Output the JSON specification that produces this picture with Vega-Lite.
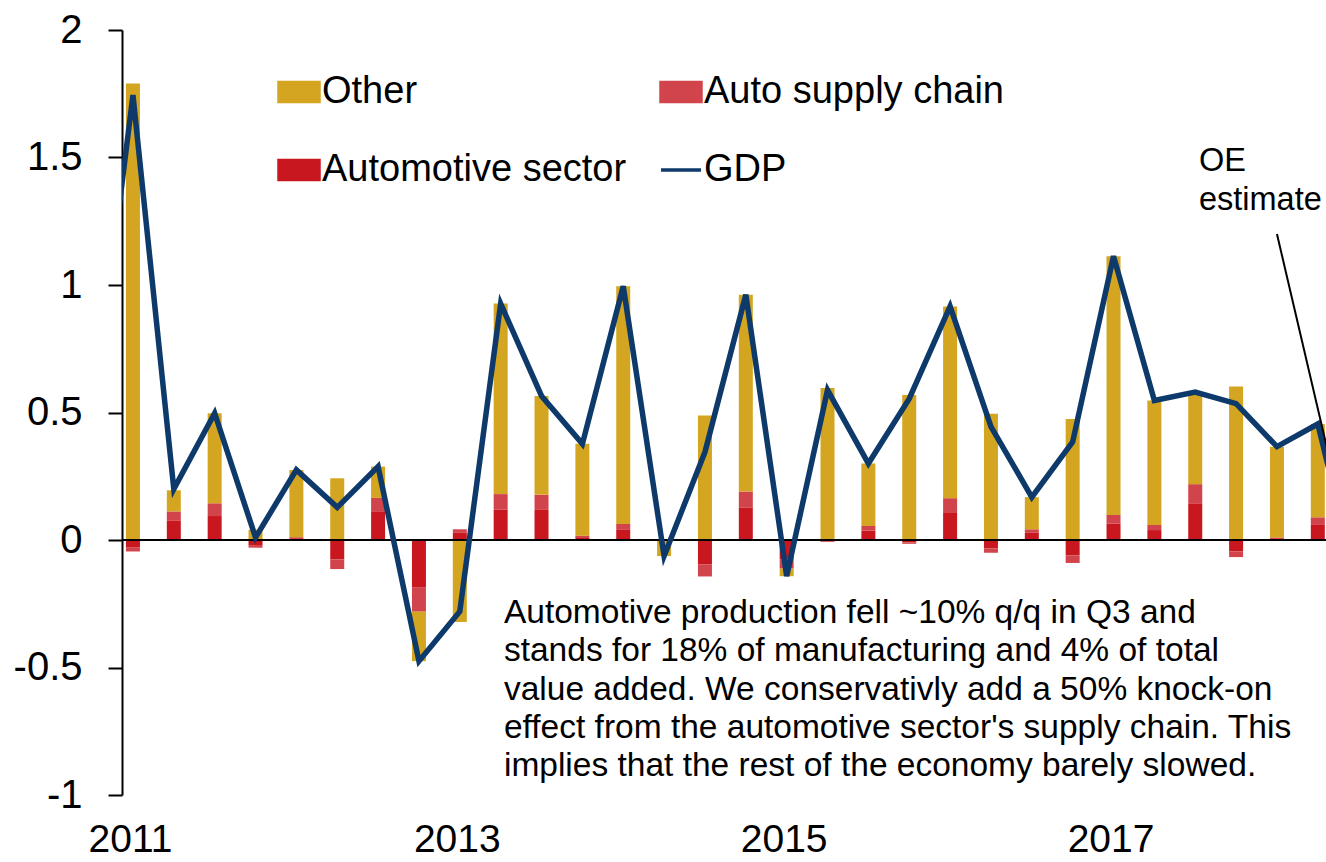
{
  "$schema": "https://vega.github.io/schema/vega-lite/v6.json",
  "width": 1204,
  "height": 765,
  "autosize": {"type": "none"},
  "padding": {"left": 122, "top": 30, "right": 0, "bottom": 67},
  "background": "white",
  "config": {"view": {"stroke": null}, "font": "Liberation Sans"},
  "datasets": {
    "contrib": [
      {"q":0,"series":"Automotive sector","value":-0.03,"rank":1},{"q":0,"series":"Auto supply chain","value":-0.015,"rank":2},{"q":0,"series":"Other","value":1.79,"rank":3},
      {"q":1,"series":"Automotive sector","value":0.075,"rank":1},{"q":1,"series":"Auto supply chain","value":0.037,"rank":2},{"q":1,"series":"Other","value":0.083,"rank":3},
      {"q":2,"series":"Automotive sector","value":0.094,"rank":1},{"q":2,"series":"Auto supply chain","value":0.05,"rank":2},{"q":2,"series":"Other","value":0.353,"rank":3},
      {"q":3,"series":"Automotive sector","value":-0.02,"rank":1},{"q":3,"series":"Auto supply chain","value":-0.01,"rank":2},{"q":3,"series":"Other","value":0.04,"rank":3},
      {"q":4,"series":"Automotive sector","value":0.007,"rank":1},{"q":4,"series":"Auto supply chain","value":0.004,"rank":2},{"q":4,"series":"Other","value":0.264,"rank":3},
      {"q":5,"series":"Automotive sector","value":-0.076,"rank":1},{"q":5,"series":"Auto supply chain","value":-0.038,"rank":2},{"q":5,"series":"Other","value":0.242,"rank":3},
      {"q":6,"series":"Automotive sector","value":0.11,"rank":1},{"q":6,"series":"Auto supply chain","value":0.055,"rank":2},{"q":6,"series":"Other","value":0.123,"rank":3},
      {"q":7,"series":"Automotive sector","value":-0.187,"rank":1},{"q":7,"series":"Auto supply chain","value":-0.094,"rank":2},{"q":7,"series":"Other","value":-0.194,"rank":3},
      {"q":8,"series":"Automotive sector","value":0.028,"rank":1},{"q":8,"series":"Auto supply chain","value":0.014,"rank":2},{"q":8,"series":"Other","value":-0.322,"rank":3},
      {"q":9,"series":"Automotive sector","value":0.12,"rank":1},{"q":9,"series":"Auto supply chain","value":0.06,"rank":2},{"q":9,"series":"Other","value":0.747,"rank":3},
      {"q":10,"series":"Automotive sector","value":0.118,"rank":1},{"q":10,"series":"Auto supply chain","value":0.059,"rank":2},{"q":10,"series":"Other","value":0.388,"rank":3},
      {"q":11,"series":"Automotive sector","value":0.011,"rank":1},{"q":11,"series":"Auto supply chain","value":0.006,"rank":2},{"q":11,"series":"Other","value":0.36,"rank":3},
      {"q":12,"series":"Automotive sector","value":0.042,"rank":1},{"q":12,"series":"Auto supply chain","value":0.021,"rank":2},{"q":12,"series":"Other","value":0.932,"rank":3},
      {"q":13,"series":"Automotive sector","value":0,"rank":1},{"q":13,"series":"Auto supply chain","value":0,"rank":2},{"q":13,"series":"Other","value":-0.063,"rank":3},
      {"q":14,"series":"Automotive sector","value":-0.095,"rank":1},{"q":14,"series":"Auto supply chain","value":-0.048,"rank":2},{"q":14,"series":"Other","value":0.488,"rank":3},
      {"q":15,"series":"Automotive sector","value":0.128,"rank":1},{"q":15,"series":"Auto supply chain","value":0.062,"rank":2},{"q":15,"series":"Other","value":0.772,"rank":3},
      {"q":16,"series":"Automotive sector","value":-0.075,"rank":1},{"q":16,"series":"Auto supply chain","value":-0.037,"rank":2},{"q":16,"series":"Other","value":-0.03,"rank":3},
      {"q":17,"series":"Automotive sector","value":-0.005,"rank":1},{"q":17,"series":"Auto supply chain","value":-0.003,"rank":2},{"q":17,"series":"Other","value":0.596,"rank":3},
      {"q":18,"series":"Automotive sector","value":0.037,"rank":1},{"q":18,"series":"Auto supply chain","value":0.018,"rank":2},{"q":18,"series":"Other","value":0.245,"rank":3},
      {"q":19,"series":"Automotive sector","value":-0.01,"rank":1},{"q":19,"series":"Auto supply chain","value":-0.005,"rank":2},{"q":19,"series":"Other","value":0.569,"rank":3},
      {"q":20,"series":"Automotive sector","value":0.109,"rank":1},{"q":20,"series":"Auto supply chain","value":0.055,"rank":2},{"q":20,"series":"Other","value":0.752,"rank":3},
      {"q":21,"series":"Automotive sector","value":-0.033,"rank":1},{"q":21,"series":"Auto supply chain","value":-0.017,"rank":2},{"q":21,"series":"Other","value":0.495,"rank":3},
      {"q":22,"series":"Automotive sector","value":0.028,"rank":1},{"q":22,"series":"Auto supply chain","value":0.014,"rank":2},{"q":22,"series":"Other","value":0.126,"rank":3},
      {"q":23,"series":"Automotive sector","value":-0.06,"rank":1},{"q":23,"series":"Auto supply chain","value":-0.03,"rank":2},{"q":23,"series":"Other","value":0.475,"rank":3},
      {"q":24,"series":"Automotive sector","value":0.065,"rank":1},{"q":24,"series":"Auto supply chain","value":0.033,"rank":2},{"q":24,"series":"Other","value":1.015,"rank":3},
      {"q":25,"series":"Automotive sector","value":0.039,"rank":1},{"q":25,"series":"Auto supply chain","value":0.02,"rank":2},{"q":25,"series":"Other","value":0.488,"rank":3},
      {"q":26,"series":"Automotive sector","value":0.144,"rank":1},{"q":26,"series":"Auto supply chain","value":0.075,"rank":2},{"q":26,"series":"Other","value":0.361,"rank":3},
      {"q":27,"series":"Automotive sector","value":-0.045,"rank":1},{"q":27,"series":"Auto supply chain","value":-0.022,"rank":2},{"q":27,"series":"Other","value":0.602,"rank":3},
      {"q":28,"series":"Automotive sector","value":0.007,"rank":1},{"q":28,"series":"Auto supply chain","value":0.003,"rank":2},{"q":28,"series":"Other","value":0.356,"rank":3},
      {"q":29,"series":"Automotive sector","value":0.059,"rank":1},{"q":29,"series":"Auto supply chain","value":0.03,"rank":2},{"q":29,"series":"Other","value":0.366,"rank":3}
    ],
    "gdp": [
      {"q":-1,"quarter":"2010 Q4","gdp":0.45},
      {"q":0,"quarter":"2011 Q1","gdp":1.745},
      {"q":1,"quarter":"2011 Q2","gdp":0.2},
      {"q":2,"quarter":"2011 Q3","gdp":0.497},
      {"q":3,"quarter":"2011 Q4","gdp":0.01},
      {"q":4,"quarter":"2012 Q1","gdp":0.275},
      {"q":5,"quarter":"2012 Q2","gdp":0.128},
      {"q":6,"quarter":"2012 Q3","gdp":0.288},
      {"q":7,"quarter":"2012 Q4","gdp":-0.475},
      {"q":8,"quarter":"2013 Q1","gdp":-0.28},
      {"q":9,"quarter":"2013 Q2","gdp":0.927},
      {"q":10,"quarter":"2013 Q3","gdp":0.565},
      {"q":11,"quarter":"2013 Q4","gdp":0.377},
      {"q":12,"quarter":"2014 Q1","gdp":0.995},
      {"q":13,"quarter":"2014 Q2","gdp":-0.063},
      {"q":14,"quarter":"2014 Q3","gdp":0.345},
      {"q":15,"quarter":"2014 Q4","gdp":0.962},
      {"q":16,"quarter":"2015 Q1","gdp":-0.142},
      {"q":17,"quarter":"2015 Q2","gdp":0.588},
      {"q":18,"quarter":"2015 Q3","gdp":0.3},
      {"q":19,"quarter":"2015 Q4","gdp":0.554},
      {"q":20,"quarter":"2016 Q1","gdp":0.916},
      {"q":21,"quarter":"2016 Q2","gdp":0.445},
      {"q":22,"quarter":"2016 Q3","gdp":0.168},
      {"q":23,"quarter":"2016 Q4","gdp":0.385},
      {"q":24,"quarter":"2017 Q1","gdp":1.113},
      {"q":25,"quarter":"2017 Q2","gdp":0.547},
      {"q":26,"quarter":"2017 Q3","gdp":0.58},
      {"q":27,"quarter":"2017 Q4","gdp":0.535},
      {"q":28,"quarter":"2018 Q1","gdp":0.366},
      {"q":29,"quarter":"2018 Q2","gdp":0.455},
      {"q":30,"quarter":"2018 Q3","gdp":-0.2}
    ]
  },
  "layer": [
    {
      "data": {"name": "contrib"},
      "mark": {"type": "bar", "size": 14, "clip": true},
      "encoding": {
        "x": {
          "field": "q", "type": "quantitative",
          "scale": {"domain": [-0.1456, 29.078], "nice": false, "zero": false},
          "axis": {
            "values": [0, 8, 16, 24],
            "labelExpr": "'' + (2011 + floor(datum.value / 4))",
            "title": null, "domain": false, "ticks": false, "tickSize": 0, "grid": false,
            "labelFontSize": 39, "labelColor": "black", "labelFont": "Liberation Sans",
            "labelPadding": 25, "labelOffset": -3, "labelFlush": false, "labelOverlap": false
          }
        },
        "y": {
          "field": "value", "type": "quantitative", "stack": "zero",
          "scale": {"domain": [-1, 2], "nice": false},
          "axis": {
            "values": [-1, -0.5, 0, 0.5, 1, 1.5, 2],
            "labelExpr": "'' + datum.value",
            "title": null, "grid": false,
            "domainColor": "black", "domainWidth": 2,
            "tickColor": "black", "tickWidth": 2, "tickSize": 14,
            "labelFontSize": 40, "labelColor": "black", "labelFont": "Liberation Sans",
            "labelPadding": 26, "labelFlush": false, "labelOverlap": false
          }
        },
        "color": {
          "field": "series", "type": "nominal",
          "scale": {
            "domain": ["Other", "Automotive sector", "Auto supply chain", "GDP"],
            "range": ["#D4A520", "#C8171F", "#D2444C", "#0D3A6B"]
          },
          "legend": {
            "orient": "none", "legendX": 155, "legendY": 40,
            "direction": "vertical",
            "columns": 2, "title": null,
            "labelFontSize": 38, "labelFont": "Liberation Sans", "labelColor": "black",
            "labelLimit": 0, "labelOffset": 1,
            "symbolSize": 1600, "symbolType": "M-1,-0.48H1V0.48H-1Z",
            "columnPadding": 27, "rowPadding": 37,
            "encode": {
              "symbols": {
                "update": {
                  "shape": {"signal": "datum.value === 'GDP' ? 'M-1,0H1' : 'M-1,-0.48H1V0.48H-1Z'"},
                  "fill": {"signal": "datum.value === 'GDP' ? 'transparent' : scale('color', datum.value)"},
                  "stroke": {"signal": "datum.value === 'GDP' ? '#0D3A6B' : 'transparent'"},
                  "strokeWidth": {"value": 3.5},
                  "opacity": {"value": 1}
                }
              }
            }
          }
        },
        "order": {"field": "rank", "type": "quantitative"}
      }
    },
    {
      "data": {"values": [{}]},
      "mark": {"type": "rule", "color": "black", "strokeWidth": 2},
      "encoding": {"y": {"datum": 0}}
    },
    {
      "data": {"name": "gdp"},
      "mark": {"type": "line", "strokeWidth": 5.5, "clip": true, "strokeJoin": "miter"},
      "encoding": {
        "x": {"field": "q", "type": "quantitative"},
        "y": {"field": "gdp", "type": "quantitative"},
        "color": {"datum": "GDP"}
      }
    },
    {
      "data": {"values": [{}]},
      "mark": {"type": "rule", "color": "black", "strokeWidth": 2, "clip": true},
      "encoding": {
        "x": {"datum": 28.0}, "y": {"datum": 1.2},
        "x2": {"datum": 30.0}, "y2": {"datum": -0.17}
      }
    },
    {
      "data": {"values": [{}]},
      "mark": {
        "type": "text", "align": "left", "baseline": "alphabetic",
        "font": "Liberation Sans", "fontSize": 33.5, "lineHeight": 38.3, "color": "black",
        "text": [
          "Automotive production fell ~10% q/q in Q3 and",
          "stands for 18% of manufacturing and 4% of total",
          "value added. We conservativly add a 50% knock-on",
          "effect from the automotive sector's supply chain. This",
          "implies that the rest of the economy barely slowed."
        ]
      },
      "encoding": {"x": {"datum": 9.08}, "y": {"datum": -0.3255}}
    },
    {
      "data": {"values": [{}]},
      "mark": {
        "type": "text", "align": "left", "baseline": "alphabetic",
        "font": "Liberation Sans", "fontSize": 32.5, "lineHeight": 39.3, "color": "black",
        "text": ["OE", "estimate"]
      },
      "encoding": {"x": {"datum": 26.09}, "y": {"datum": 1.447}}
    }
  ]
}
